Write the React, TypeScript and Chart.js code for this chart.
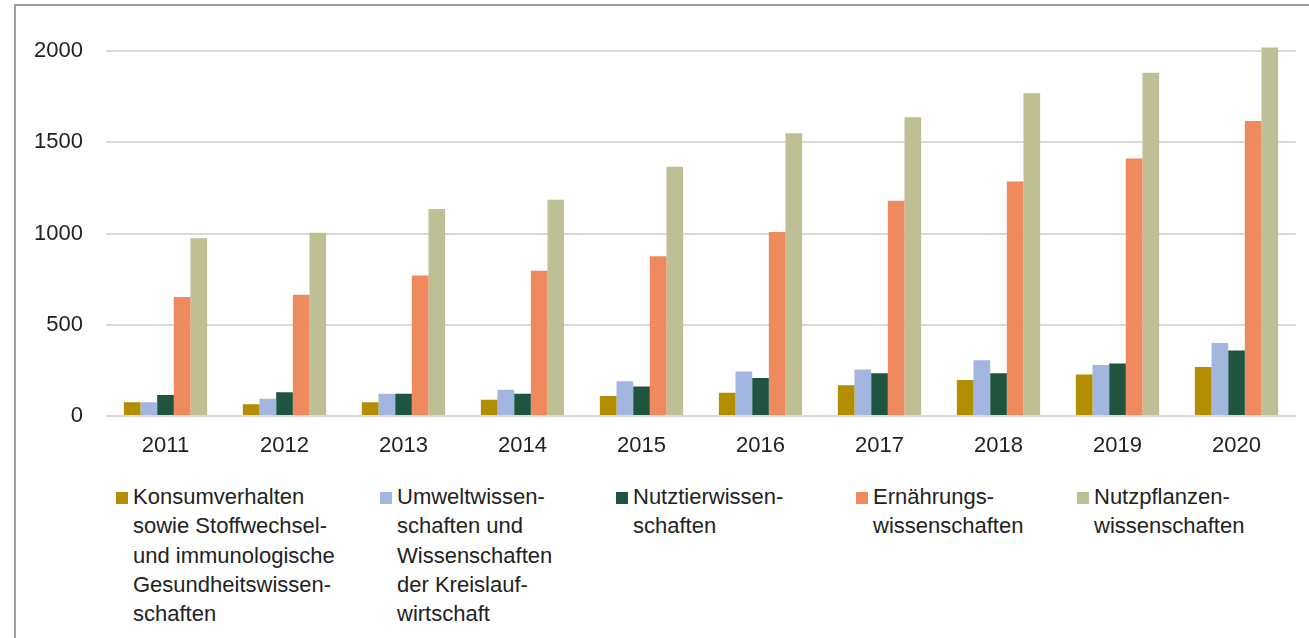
import React, { useEffect, useRef } from "react";
import { Chart, registerables } from "chart.js";

Chart.register(...registerables);

const years = ["2011", "2012", "2013", "2014", "2015", "2016", "2017", "2018", "2019", "2020"];

const konsum = [75, 64, 75, 89, 109, 127, 168, 197, 228, 268];
const umwelt = [75, 95, 122, 144, 191, 244, 255, 306, 280, 400];
const nutztier = [115, 130, 122, 122, 162, 208, 235, 235, 288, 359];
const ernaehrung = [652, 665, 770, 796, 876, 1009, 1180, 1286, 1412, 1617];
const nutzpflanzen = [974, 1004, 1135, 1186, 1366, 1550, 1638, 1769, 1881, 2020];

const yTicks = [0, 500, 1000, 1500, 2000];

const labelLines = [
  ["Konsumverhalten", "sowie Stoffwechsel-", "und immunologische", "Gesundheitswissen-", "schaften"],
  ["Umweltwissen-", "schaften und", "Wissenschaften", "der Kreislauf-", "wirtschaft"],
  ["Nutztierwissen-", "schaften"],
  ["Ernährungs-", "wissenschaften"],
  ["Nutzpflanzen-", "wissenschaften"],
];

const colors = ["#B38E00", "#A3B6E0", "#1F5440", "#EE8A5E", "#BFBF96"];
const legendX = [116, 380, 616, 856, 1077];

const seriesValues = [konsum, umwelt, nutztier, ernaehrung, nutzpflanzen];

const FONT = "'Liberation Sans', Arial, sans-serif";

export default function App() {
  const ref = useRef<HTMLCanvasElement | null>(null);

  useEffect(() => {
    if (!ref.current) return;
    const chart = new Chart(ref.current, {
      type: "bar",
      data: {
        labels: years,
        datasets: seriesValues.map((vals, i) => ({
          label: labelLines[i].join(" "),
          data: vals,
          backgroundColor: colors[i],
          borderWidth: 0,
          barPercentage: 1,
          categoryPercentage: 0.7,
        })),
      },
      options: {
        responsive: false,
        animation: false,
        layout: { padding: { top: 28, right: 13, left: 0, bottom: 0 } },
        plugins: { legend: { display: false }, tooltip: { enabled: false } },
        scales: {
          x: {
            grid: { display: false },
            border: { display: false },
            ticks: {
              color: "#222",
              font: { family: FONT, size: 22 },
              padding: 9,
            },
            afterFit: (scale: any) => {
              scale.height = 54;
            },
          },
          y: {
            min: 0,
            max: 2082,
            border: { display: false },
            grid: { color: "#D9D9D9", lineWidth: 2, drawTicks: false },
            ticks: {
              color: "#222",
              font: { family: FONT, size: 22 },
              padding: 23,
              stepSize: 500,
              callback: (v: any) => String(v),
            },
            afterBuildTicks: (scale: any) => {
              scale.ticks = yTicks.map((v) => ({ value: v }));
            },
            afterFit: (scale: any) => {
              scale.width = 106;
            },
          },
        },
      },
    });
    return () => chart.destroy();
  }, []);

  return (
    <div style={{ position: "fixed", left: 0, top: 0, width: 1309, height: 638, background: "#fff", overflow: "hidden", fontFamily: FONT }}>
      <div
        style={{
          position: "absolute",
          left: 14,
          top: 4,
          width: 1400,
          height: 700,
          borderTop: "2px solid #A0A0A0",
          borderLeft: "2px solid #A0A0A0",
        }}
      />
      <canvas ref={ref} width={1309} height={470} style={{ position: "absolute", left: 0, top: 0, width: 1309, height: 470 }} />
      {labelLines.map((lines, i) => (
        <div key={i} style={{ position: "absolute", left: legendX[i], top: 482 }}>
          <div style={{ position: "absolute", left: 0, top: 10, width: 12, height: 12, background: colors[i] }} />
          <div style={{ position: "absolute", left: 17, top: 0, fontSize: 22, lineHeight: "29.3px", color: "#222", whiteSpace: "nowrap" }}>
            {lines.map((l, j) => (
              <div key={j}>{l}</div>
            ))}
          </div>
        </div>
      ))}
    </div>
  );
}
